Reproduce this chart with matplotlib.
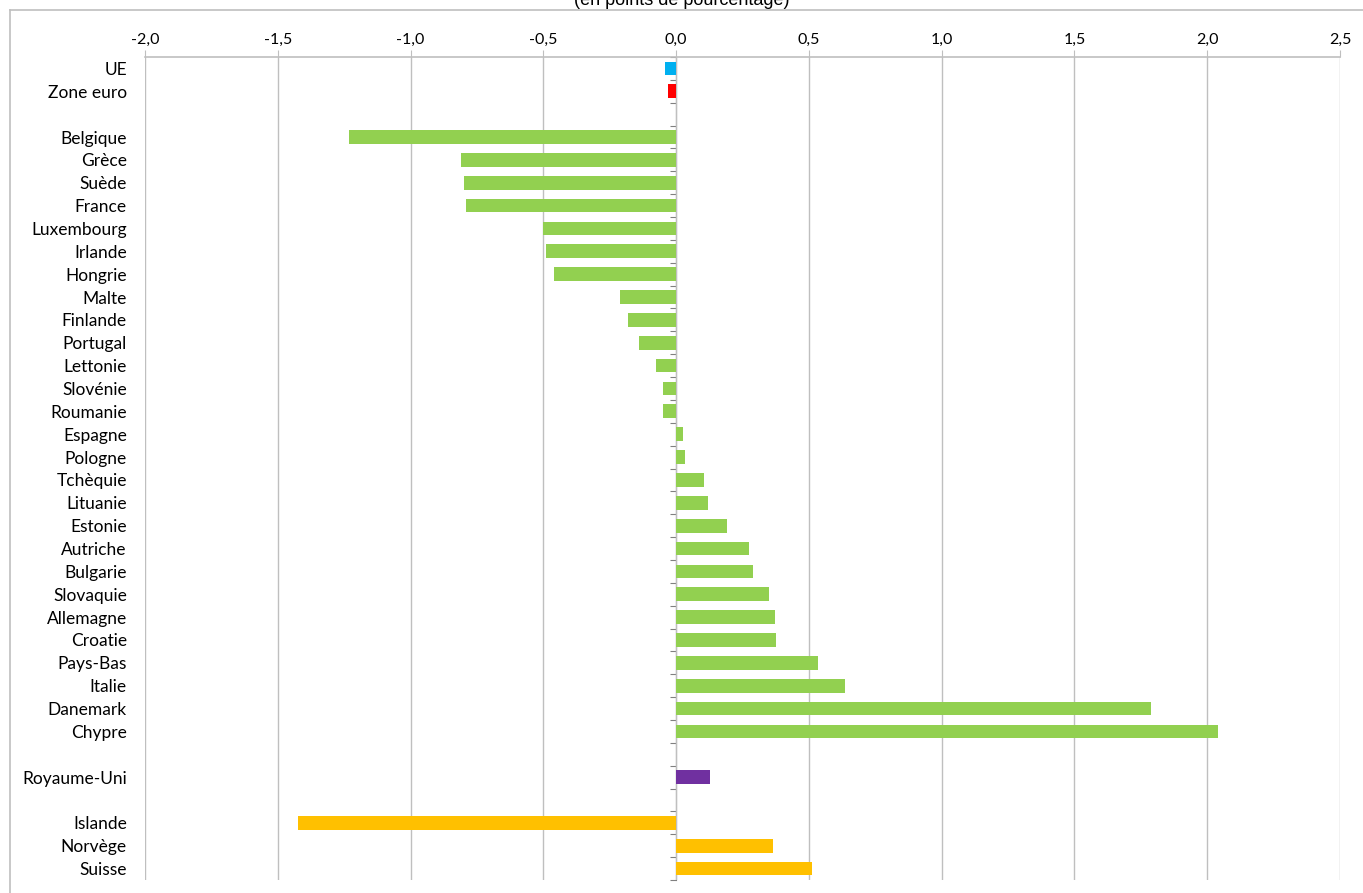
import numpy as np
import matplotlib
matplotlib.use('Agg')
from matplotlib import pyplot as plt
from matplotlib.lines import Line2D
from matplotlib.ticker import FuncFormatter

# ------------------------------------ DATA ------------------------------------

categories = ['UE', 'Zone euro', '',
              'Belgique', 'Grèce', 'Suède', 'France', 'Luxembourg', 'Irlande', 'Hongrie',
              'Malte', 'Finlande', 'Portugal', 'Lettonie', 'Slovénie', 'Roumanie', 'Espagne',
              'Pologne', 'Tchèquie', 'Lituanie', 'Estonie', 'Autriche', 'Bulgarie', 'Slovaquie',
              'Allemagne', 'Croatie', 'Pays-Bas', 'Italie', 'Danemark', 'Chypre', '',
              'Royaume-Uni', '',
              'Islande', 'Norvège', 'Suisse']

values = [-0.04, -0.03, np.nan,
          -1.23, -0.81, -0.80, -0.79, -0.50, -0.49, -0.46,
          -0.21, -0.18, -0.14, -0.075, -0.05, -0.05, 0.026,
          0.034, 0.105, 0.12, 0.19, 0.275, 0.29, 0.35,
          0.373, 0.376, 0.535, 0.636, 1.79, 2.04, np.nan,
          0.128, np.nan,
          -1.425, 0.365, 0.512]

groups = ['ue', 'ze', '',
          *['eu'] * 27, '',
          'uk', '',
          'aele', 'aele', 'aele']

group_colors = {'ue': '#00B0F0', 'ze': '#FF0000', 'eu': '#92D050',
                'uk': '#7030A0', 'aele': '#FFC000', '': 'none'}

x_ticks = [-2.0, -1.5, -1.0, -0.5, 0.0, 0.5, 1.0, 1.5, 2.0, 2.5]

# ------------------------------------ PLOT ------------------------------------

plt.rcParams['font.family'] = ['Lato', 'DejaVu Sans']

fig = plt.figure(figsize=(13.63, 8.93), dpi=100)
ax = fig.add_axes([145 / 1363, 1 - 880 / 893, (1340 - 145) / 1363, (880 - 57) / 893])

y = np.arange(len(categories))
vals = np.nan_to_num(np.array(values, dtype=float))
colors = [group_colors[g] for g in groups]
ax.barh(y, vals, height=0.6, color=colors, zorder=3)

ax.set_ylim(len(categories) - 0.5, -0.5)
ax.set_xlim(x_ticks[0], x_ticks[-1])
ax.set_yticks(y)
ax.set_yticklabels(categories, fontsize=12.5)
ax.tick_params(axis='y', length=0, pad=13)

ax.xaxis.tick_top()
ax.set_xticks(x_ticks)
ax.xaxis.set_major_formatter(FuncFormatter(lambda v, p: f'{v:.1f}'.replace('.', ',')))
ax.tick_params(axis='x', labelsize=11.5, length=5, color='#BFBFBF', pad=2.5)
ax.grid(axis='x', color='#BFBFBF', linewidth=1, zorder=0)

for s in ['left', 'right', 'bottom']:
    ax.spines[s].set_visible(False)
ax.spines['top'].set_color('#BFBFBF')
ax.spines['top'].set_linewidth(1.2)

# zero axis with category separator ticks
zero_pos = (0 - x_ticks[0]) / (x_ticks[-1] - x_ticks[0])
sec = ax.secondary_yaxis(zero_pos)
sec.set_yticks(np.arange(len(categories) + 1) - 0.5)
sec.set_yticklabels([])
sec.tick_params(axis='y', length=4, color='#808080', direction='out')
sec.spines['left'].set_color('#808080')
sec.spines['left'].set_zorder(4)

# chart area border
fig.add_artist(Line2D([10 / 1363, 10 / 1363], [0, 1 - 10 / 893], color='#BFBFBF', lw=1.2))
fig.add_artist(Line2D([10 / 1363, 1], [1 - 10 / 893, 1 - 10 / 893], color='#BFBFBF', lw=1.2))

fig.text(0.5, 1 - 5 / 893, '(en points de pourcentage)', ha='center', va='baseline',
         fontsize=13, family=['Liberation Sans', 'DejaVu Sans'])

fig.savefig('out.png', dpi=100)
